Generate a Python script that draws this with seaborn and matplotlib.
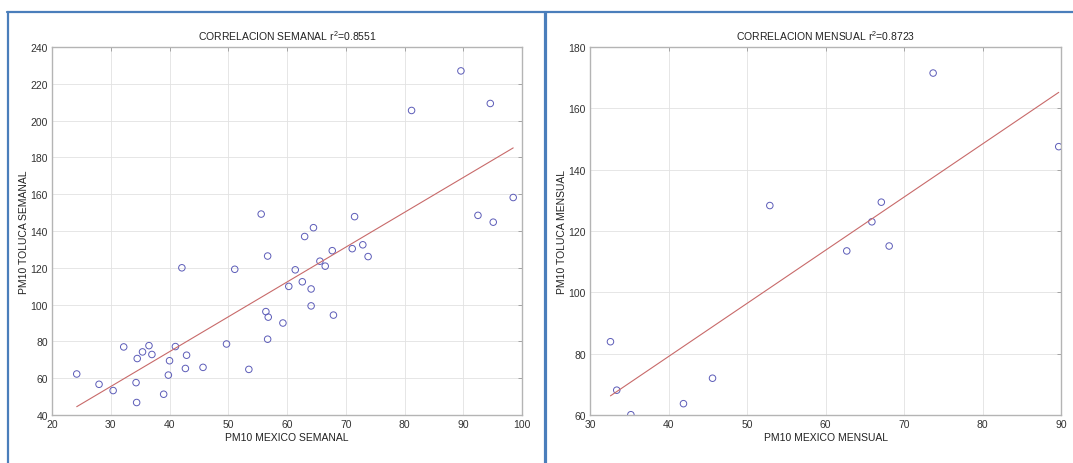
import numpy as np
import pandas as pd
import seaborn as sns
import matplotlib.pyplot as plt
from matplotlib.lines import Line2D

# semanal (weekly) PM10 values
mexico_semanal = [24.2, 28.0, 30.4, 32.2, 34.5, 35.4, 36.5, 37.0, 34.3, 34.4,
                  39.0, 39.8, 40.0, 41.0, 42.1, 42.9, 42.7, 45.7, 49.7, 51.1,
                  53.5, 56.4, 56.7, 56.8, 56.7, 59.3, 60.3, 61.4, 62.6, 63.0,
                  64.1, 64.1, 64.5, 65.6, 66.5, 67.7, 67.9, 71.1, 72.9, 73.8,
                  55.6, 71.5, 81.2, 89.6, 94.6, 98.5, 92.5, 95.1]
toluca_semanal = [62.3, 56.7, 53.3, 77.0, 70.7, 74.3, 77.7, 72.9, 57.6, 46.8,
                  51.3, 61.7, 69.5, 77.2, 120.0, 72.5, 65.3, 65.9, 78.6, 119.2,
                  64.8, 96.2, 126.4, 93.2, 81.2, 90.0, 109.9, 118.9, 112.4, 137.0,
                  108.5, 99.3, 141.8, 123.6, 120.9, 129.3, 94.3, 130.4, 132.5, 126.1,
                  149.2, 147.8, 205.5, 227.0, 209.3, 158.2, 148.5, 144.8]

# mensual (monthly) PM10 values
mexico_mensual = [32.6, 33.4, 35.2, 41.9, 45.6, 52.9, 62.7, 65.9, 67.1, 68.1, 73.7, 89.7]
toluca_mensual = [83.9, 68.1, 60.1, 63.7, 72.0, 128.3, 113.5, 123.0, 129.4, 115.1, 171.5, 147.5]

sns.set_style('white')
plt.rcParams['font.family'] = ['Liberation Sans', 'DejaVu Sans']
plt.rcParams['mathtext.default'] = 'regular'

fig = plt.figure(figsize=(10.73, 4.64), dpi=100)
ax1 = fig.add_axes([0.0485, 0.1034, 0.438, 0.7932])
ax2 = fig.add_axes([0.5499, 0.1034, 0.439, 0.7932])

panels = [
    (ax1, mexico_semanal, toluca_semanal, 'CORRELACION SEMANAL r$^2$=0.8551',
     'PM10 MEXICO SEMANAL', 'PM10 TOLUCA SEMANAL', (20, 100), (40, 240), 10, 20),
    (ax2, mexico_mensual, toluca_mensual, 'CORRELACION MENSUAL r$^2$=0.8723',
     'PM10 MEXICO MENSUAL', 'PM10 TOLUCA MENSUAL', (30, 90), (60, 180), 10, 20),
]

for ax, x, y, title, xlab, ylab, xlim, ylim, xstep, ystep in panels:
    df = pd.DataFrame({'x': x, 'y': y})
    sns.regplot(data=df, x='x', y='y', ax=ax, scatter=False, ci=None,
                line_kws={'color': '#c86a6a', 'lw': 0.8})
    sns.scatterplot(data=df, x='x', y='y', ax=ax, marker='o', s=22,
                    facecolor='none', edgecolor='#5c5cb8', linewidth=0.7)
    ax.set_xlim(*xlim)
    ax.set_ylim(*ylim)
    ax.set_xticks(np.arange(xlim[0], xlim[1] + 1, xstep))
    ax.set_yticks(np.arange(ylim[0], ylim[1] + 1, ystep))
    ax.grid(True, color='#e2e2e2', lw=0.6)
    ax.set_axisbelow(True)
    ax.tick_params(direction='in', top=True, right=True, length=3, width=0.6,
                   color='#999999', labelsize=7.5, labelcolor='#333333', pad=3)
    for s in ax.spines.values():
        s.set_color('#b4b4b4')
        s.set_linewidth(1.0)
    ax.set_title(title, fontsize=7.5, color='#222222', pad=5)
    ax.set_xlabel(xlab, fontsize=7.5, color='#222222', labelpad=2)
    ax.set_ylabel(ylab, fontsize=7.5, color='#222222', labelpad=1)

# blue frames around the two panels
blue = '#4a7ebb'
fig.add_artist(Line2D([7 / 1073, 1], [1 - 13 / 464, 1 - 13 / 464], color=blue, lw=1.6))
fig.add_artist(Line2D([8 / 1073, 8 / 1073], [0, 1 - 13 / 464], color=blue, lw=1.6))
fig.add_artist(Line2D([545 / 1073, 545 / 1073], [0, 1 - 13 / 464], color=blue, lw=2.3))

fig.savefig('out.png', dpi=100)
